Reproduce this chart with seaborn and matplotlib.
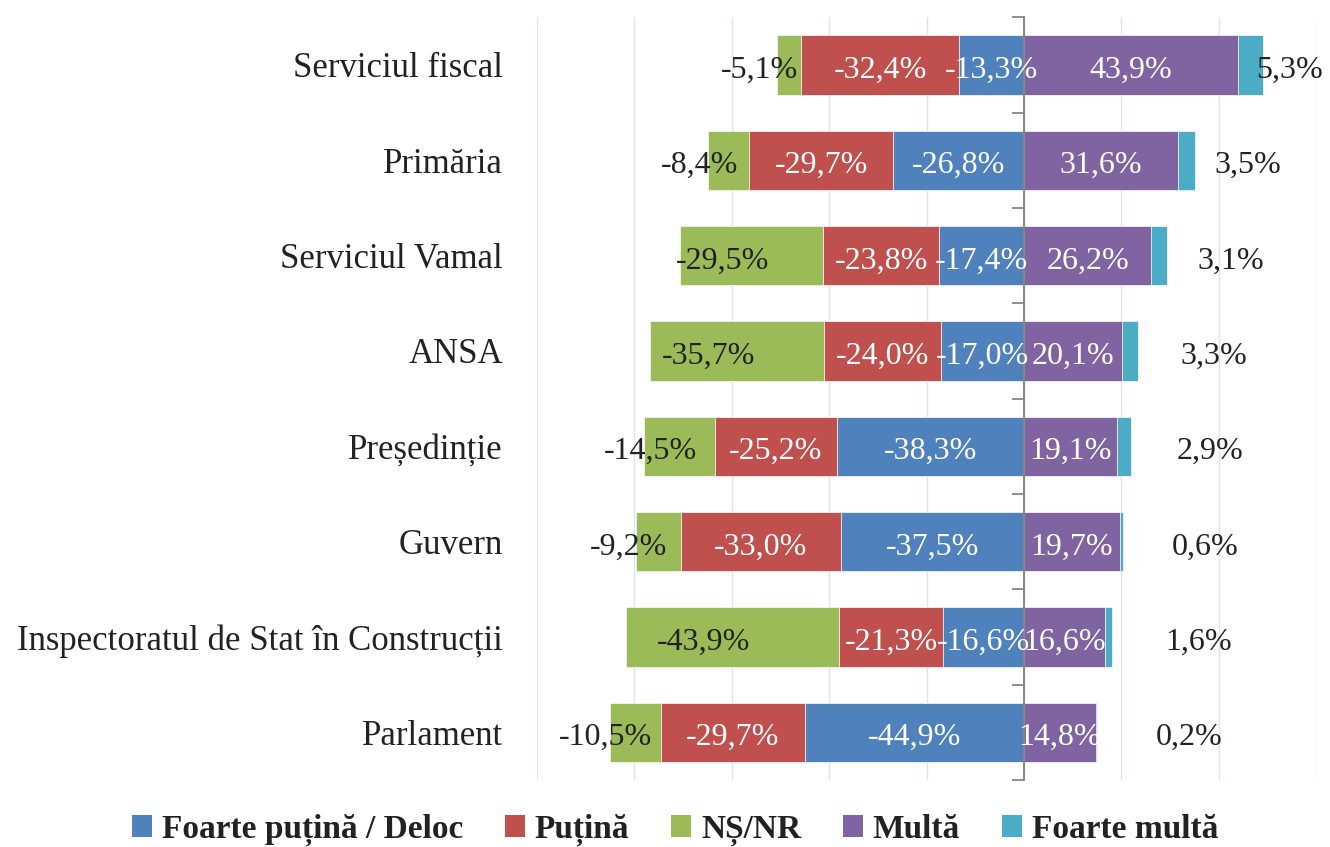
import numpy as np
import pandas as pd
import matplotlib
matplotlib.use("Agg")
import matplotlib.pyplot as plt
import seaborn as sns
from matplotlib.patches import Patch
from matplotlib.transforms import blended_transform_factory

# ---------------- data ----------------
categories = ["Serviciul fiscal", "Primăria", "Serviciul Vamal", "ANSA",
              "Președinție", "Guvern", "Inspectoratul de Stat în Construcții",
              "Parlament"]
foarte_putina = [13.3, 26.8, 17.4, 17.0, 38.3, 37.5, 16.6, 44.9]
putina = [32.4, 29.7, 23.8, 24.0, 25.2, 33.0, 21.3, 29.7]
ns_nr = [5.1, 8.4, 29.5, 35.7, 14.5, 9.2, 43.9, 10.5]
multa = [43.9, 31.6, 26.2, 20.1, 19.1, 19.7, 16.6, 14.8]
foarte_multa = [5.3, 3.5, 3.1, 3.3, 2.9, 0.6, 1.6, 0.2]
series_names = ["Foarte puțină / Deloc", "Puțină", "NȘ/NR", "Multă", "Foarte multă"]
grid_ticks = [-100, -80, -60, -40, -20, 0, 20, 40, 60]

# ---------------- style ----------------
COL = {"Foarte puțină / Deloc": "#4F81BD", "Puțină": "#C0504D", "NȘ/NR": "#9BBB59",
       "Multă": "#8064A2", "Foarte multă": "#4BACC6"}
TXT = "#222222"

sns.set_theme(style="white")
plt.rcParams["font.family"] = ["Liberation Serif", "DejaVu Serif"]

fp = np.array(foarte_putina)
p = np.array(putina)
ns = np.array(ns_nr)
m = np.array(multa)
fm = np.array(foarte_multa)

df = pd.DataFrame({
    "cat": categories,
    "neg_green": -(fp + p + ns),
    "neg_red": -(fp + p),
    "neg_blue": -fp,
    "pos_cyan": m + fm,
    "pos_purple": m,
})

fig = plt.figure(figsize=(13.3, 8.47), dpi=100)
ax = fig.add_axes([537 / 1330, 1 - 780 / 847, (1316 - 537) / 1330, (780 - 17.3) / 847])

draw = [("neg_green", "NȘ/NR"), ("neg_red", "Puțină"), ("neg_blue", "Foarte puțină / Deloc"),
        ("pos_cyan", "Foarte multă"), ("pos_purple", "Multă")]
for col, name in draw:
    sns.barplot(data=df, x=col, y="cat", orient="h", color=COL[name], saturation=1,
                width=0.62, edgecolor="#f4f4f4", linewidth=0.6, ax=ax, zorder=2)

n = len(categories)
ax.set_xlim(-100, 60)
ax.set_ylim(n - 0.5, -0.5)
ax.set_xlabel("")
ax.set_ylabel("")

# vertical gridlines
ax.set_xticks(grid_ticks)
ax.set_xticklabels([])
ax.tick_params(axis="x", length=0)
ax.set_axisbelow(True)
ax.xaxis.grid(True, color="#DCE4EF", linewidth=1.0)
ax.yaxis.grid(False)

# zero axis with boundary ticks
for s in ["top", "right", "bottom"]:
    ax.spines[s].set_visible(False)
ax.spines["left"].set_position(("data", 0))
ax.spines["left"].set_color("#868686")
ax.spines["left"].set_linewidth(1.4)
ax.spines["left"].set_zorder(3)
ax.set_yticks(np.arange(-0.5, n, 1.0))
ax.set_yticklabels([])
ax.tick_params(axis="y", direction="out", length=9, width=1.3, color="#868686", left=True)

# category labels
tr = blended_transform_factory(ax.transAxes, ax.transData)
for i, c in enumerate(categories):
    ax.text(-0.0436, i, c, transform=tr, ha="right", va="center_baseline", fontsize=25, color=TXT)

def fmt(v):
    return f"{v:.1f}".replace(".", ",") + "%"

fs = 23
va = "center_baseline"
for i in range(n):
    yy = i + 0.02
    # blue (closest to zero)
    ax.text(-fp[i] / 2, yy, fmt(-fp[i]), ha="center", va=va, fontsize=fs, color="white", zorder=5)
    # red
    ax.text(-(fp[i] + p[i] / 2), yy, fmt(-p[i]), ha="center", va=va, fontsize=fs, color="white", zorder=5)
    # green: shifted left of segment centre
    ax.text(-(fp[i] + p[i] + ns[i] / 2) - 6, yy, fmt(-ns[i]), ha="center", va=va,
            fontsize=fs, color=TXT, zorder=5)
    # purple
    ax.text(m[i] / 2, yy, fmt(m[i]), ha="center", va=va, fontsize=fs, color="white", zorder=5)
    # cyan: outside, to the right
    ax.text(0.6 * (m[i] + fm[i]) + 25, yy, fmt(fm[i]), ha="center", va=va,
            fontsize=fs, color=TXT, zorder=5)

handles = [Patch(facecolor=COL[s], edgecolor="none", label=s) for s in series_names]
fig.legend(handles=handles, loc="center", bbox_to_anchor=(675 / 1330, 1 - 830 / 847), ncol=5,
           frameon=False, prop={"weight": "bold", "size": 24}, handlelength=0.6,
           handleheight=0.6, handletextpad=0.3, columnspacing=1.25, labelcolor=TXT)

fig.savefig("out.png", dpi=100)
